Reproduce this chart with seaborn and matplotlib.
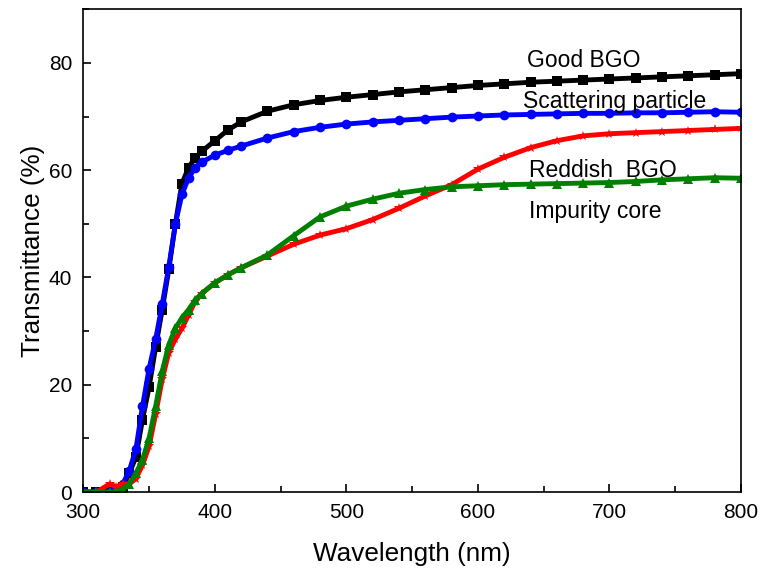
import matplotlib
matplotlib.use("Agg")
import matplotlib.pyplot as plt
from matplotlib.ticker import MultipleLocator
import numpy as np
import pandas as pd
import seaborn as sns

wavelength = [300, 310, 320, 325, 330, 335, 340, 345, 350, 355, 360, 365, 370,
              375, 380, 385, 390, 400, 410, 420, 440, 460, 480, 500, 520, 540,
              560, 580, 600, 620, 640, 660, 680, 700, 720, 740, 760, 780, 800]

good_bgo = [0, 0, 0, 0.3, 1, 3.5, 6.5, 13.5, 19.5, 27, 34, 41.5, 50,
            57.5, 60.5, 62.3, 63.5, 65.5, 67.5, 69, 71, 72.2, 73, 73.6, 74.1, 74.6,
            75, 75.4, 75.8, 76.1, 76.4, 76.6, 76.8, 77, 77.2, 77.4, 77.6, 77.8, 78]

scattering = [0, 0, 0, 0.3, 1.5, 4, 8, 16, 23, 28.5, 35, 42, 50,
              55.5, 58.5, 60.5, 61.5, 62.8, 63.7, 64.5, 66, 67.2, 68, 68.6, 69, 69.3,
              69.6, 69.9, 70.1, 70.3, 70.4, 70.5, 70.6, 70.6, 70.7, 70.7, 70.8, 70.9, 70.8]

reddish = [0, 0, 1.5, 1, 1.5, 1.5, 2.5, 5, 8.5, 14.5, 21, 26, 28.5,
           30.5, 33, 35.5, 37, 39, 40.5, 41.8, 44, 46.2, 47.9, 49.1, 50.8, 52.9,
           55.2, 57.3, 60.2, 62.4, 64.2, 65.5, 66.4, 66.8, 67, 67.2, 67.4, 67.6, 67.8]

impurity = [0, 0, 0, 0, 0.5, 1.5, 3.5, 6, 10, 16, 22.5, 27.5, 30.5,
            32.5, 34, 35.8, 37, 39, 40.5, 41.8, 44.2, 47.8, 51.3, 53.3, 54.6, 55.7,
            56.4, 56.9, 57.1, 57.3, 57.4, 57.5, 57.6, 57.7, 57.9, 58.2, 58.4, 58.6, 58.5]

names = ['Good BGO', 'Scattering particle', 'Reddish  BGO', 'Impurity core']
series = [good_bgo, scattering, reddish, impurity]
colors = ['black', 'blue', 'red', 'green']
marks = ['s', 'o', '*', '^']

rows = []
for n, s in zip(names, series):
    for w, t in zip(wavelength, s):
        rows.append([n, w, t])
df = pd.DataFrame(rows, columns=['Sample', 'Wavelength', 'T'])

sns.set_style('white')
plt.rcParams['font.family'] = ['Liberation Sans', 'DejaVu Sans']
plt.rcParams['text.color'] = 'black'
plt.rcParams['axes.labelcolor'] = 'black'
plt.rcParams['xtick.color'] = 'black'
plt.rcParams['ytick.color'] = 'black'

fig = plt.figure(figsize=(7.6, 5.7), dpi=100)
ax = fig.add_axes([0.1096, 0.1368, 0.8654, 0.8469])

sns.lineplot(data=df, x='Wavelength', y='T', hue='Sample', style='Sample',
             palette=dict(zip(names, colors)), markers=dict(zip(names, marks)),
             dashes=False, linewidth=3.5, markersize=7, markeredgewidth=0,
             legend=False, ax=ax)

ax.set_xlim(300, 800)
ax.set_ylim(0, 90)
ax.xaxis.set_major_locator(MultipleLocator(100))
ax.xaxis.set_minor_locator(MultipleLocator(50))
ax.yaxis.set_major_locator(MultipleLocator(20))
ax.yaxis.set_minor_locator(MultipleLocator(10))
ax.tick_params(which='both', direction='in', bottom=True, left=True,
               top=False, right=False, labelsize=15, width=1.2)
ax.tick_params(which='major', length=6, pad=8)
ax.tick_params(which='minor', length=4)
for sp in ax.spines.values():
    sp.set_linewidth(1.2)
    sp.set_color('black')

ax.set_xlabel('Wavelength (nm)', fontsize=18.8, labelpad=14)
ax.set_ylabel('Transmittance (%)', fontsize=18.8, labelpad=3)

labels = [('Good BGO', 637, 79.3), ('Scattering particle', 634.5, 71.6),
          ('Reddish  BGO', 639, 58.7), ('Impurity core', 639, 51.0)]
for txt, x, y in labels:
    ax.text(x, y, txt, fontsize=16.5, ha='left', va='baseline')

fig.savefig('out.png', dpi=100)
